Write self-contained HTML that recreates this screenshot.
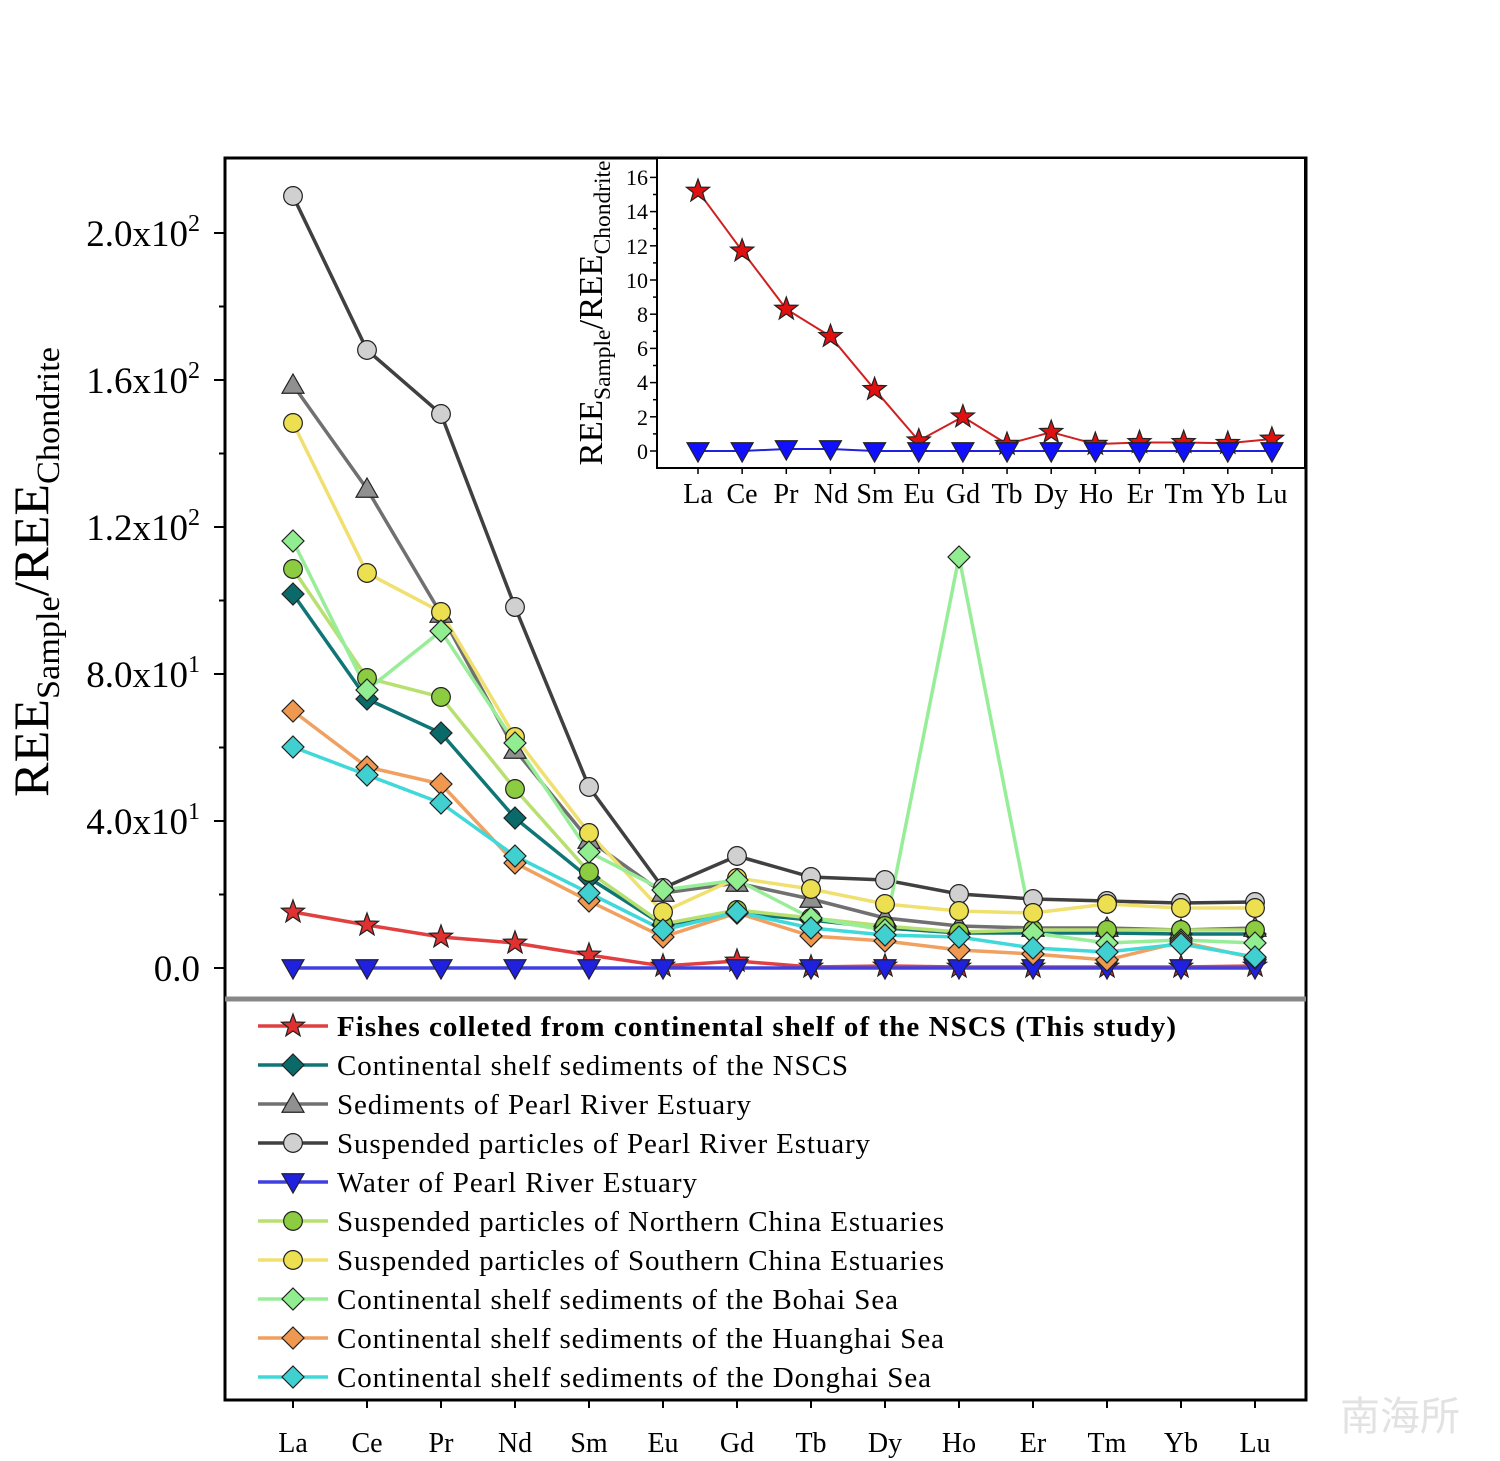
<!DOCTYPE html>
<html><head><meta charset="utf-8"><style>
body{margin:0;background:#fff}
svg{display:block;font-family:"Liberation Serif",serif}
</style></head><body>
<svg id="s" width="1500" height="1461" viewBox="0 0 1500 1461" xmlns="http://www.w3.org/2000/svg">
<rect width="1500" height="1461" fill="#fff"/>
<rect x="225" y="158" width="1081" height="1242" fill="none" stroke="#000" stroke-width="3"/>
<line x1="225" y1="999" x2="1306" y2="999" stroke="#888" stroke-width="5"/>
<g id="ticks" stroke="#000" stroke-width="2"></g>
<g font-size="37" text-anchor="end">
<text x="200" y="246">2.0x10<tspan font-size="24" dy="-15">2</tspan></text>
<text x="200" y="393">1.6x10<tspan font-size="24" dy="-15">2</tspan></text>
<text x="200" y="540">1.2x10<tspan font-size="24" dy="-15">2</tspan></text>
<text x="200" y="687">8.0x10<tspan font-size="24" dy="-15">1</tspan></text>
<text x="200" y="834">4.0x10<tspan font-size="24" dy="-15">1</tspan></text>
<text x="200" y="981">0.0</text>
</g>
<text transform="translate(48,572) rotate(-90)" font-size="50" text-anchor="middle" textLength="450" lengthAdjust="spacingAndGlyphs">REE<tspan font-size="33" dy="11">Sample</tspan><tspan dy="-11">/REE</tspan><tspan font-size="33" dy="11">Chondrite</tspan></text>
<g font-size="28" text-anchor="middle">
<text x="293" y="1452">La</text><text x="367" y="1452">Ce</text><text x="441" y="1452">Pr</text><text x="515" y="1452">Nd</text><text x="589" y="1452">Sm</text><text x="663" y="1452">Eu</text><text x="737" y="1452">Gd</text><text x="811" y="1452">Tb</text><text x="885" y="1452">Dy</text><text x="959" y="1452">Ho</text><text x="1033" y="1452">Er</text><text x="1107" y="1452">Tm</text><text x="1181" y="1452">Yb</text><text x="1255" y="1452">Lu</text>
</g>
<g id="main"></g>
<g font-size="29" lengthAdjust="spacingAndGlyphs">
<text x="337" y="1036" font-weight="bold" textLength="839">Fishes colleted from continental shelf of the  NSCS (This study)</text>
<text x="337" y="1075" textLength="511">Continental shelf sediments of the NSCS</text>
<text x="337" y="1114" textLength="414">Sediments of Pearl River Estuary</text>
<text x="337" y="1153" textLength="533">Suspended particles of Pearl River Estuary</text>
<text x="337" y="1192" textLength="360">Water of Pearl River Estuary</text>
<text x="337" y="1231" textLength="607">Suspended particles of Northern China Estuaries</text>
<text x="337" y="1270" textLength="607">Suspended particles of Southern China Estuaries</text>
<text x="337" y="1309" textLength="561">Continental shelf sediments of the Bohai Sea</text>
<text x="337" y="1348" textLength="607">Continental shelf sediments of the Huanghai Sea</text>
<text x="337" y="1387" textLength="594">Continental shelf sediments of the Donghai Sea</text>
</g>
<g id="leg"></g>
<rect x="657" y="158" width="648" height="310" fill="#fff" stroke="#000" stroke-width="2"/>
<g id="iticks" stroke="#000" stroke-width="1.5"></g>
<g font-size="22" text-anchor="end">
<text x="648" y="459">0</text><text x="648" y="425">2</text><text x="648" y="390">4</text><text x="648" y="356">6</text><text x="648" y="322">8</text><text x="648" y="288">10</text><text x="648" y="254">12</text><text x="648" y="219">14</text><text x="648" y="185">16</text>
</g>
<text transform="translate(602,313) rotate(-90)" font-size="34" text-anchor="middle" textLength="305" lengthAdjust="spacingAndGlyphs">REE<tspan font-size="23" dy="8">Sample</tspan><tspan dy="-8">/REE</tspan><tspan font-size="23" dy="8">Chondrite</tspan></text>
<g font-size="28" text-anchor="middle">
<text x="698" y="503">La</text><text x="742" y="503">Ce</text><text x="786" y="503">Pr</text><text x="831" y="503">Nd</text><text x="875" y="503">Sm</text><text x="919" y="503">Eu</text><text x="963" y="503">Gd</text><text x="1007" y="503">Tb</text><text x="1051" y="503">Dy</text><text x="1096" y="503">Ho</text><text x="1140" y="503">Er</text><text x="1184" y="503">Tm</text><text x="1228" y="503">Yb</text><text x="1272" y="503">Lu</text>
</g>
<g id="inset"></g>
<text x="1340" y="1430" font-size="40" fill="#e2e2e2" font-family="'Noto Sans CJK SC',sans-serif">南海所</text>
</svg>
<script>
const NS="http://www.w3.org/2000/svg";
function el(p,t,a){const e=document.createElementNS(NS,t);for(const k in a)e.setAttribute(k,a[k]);p.appendChild(e);return e;}
const T=document.getElementById('ticks');
for(let i=0;i<=10;i++){const y=968-i*73.5;el(T,'line',{x1:i%2?219:214,y1:y,x2:225,y2:y});}
for(let i=0;i<14;i++){const x=293+74*i;el(T,'line',{x1:x,y1:1400,x2:x,y2:1408});}
function marker(g,type,x,y,fill,s){
 s=s||11;const st={fill:fill,stroke:'#222','stroke-width':1.2};
 if(type==='star'){let p=[];for(let k=0;k<10;k++){const r=k%2?s*0.45:s*1.1;const a=-Math.PI/2+k*Math.PI/5;p.push((x+r*Math.cos(a)).toFixed(1)+','+(y+r*Math.sin(a)).toFixed(1));}el(g,'polygon',Object.assign({points:p.join(' ')},st));}
 else if(type==='dia')el(g,'polygon',Object.assign({points:`${x},${y-s} ${x+s},${y} ${x},${y+s} ${x-s},${y}`},st));
 else if(type==='tri')el(g,'polygon',Object.assign({points:`${x},${y-s} ${x+s},${y+s*0.75} ${x-s},${y+s*0.75}`},st));
 else if(type==='tdn')el(g,'polygon',Object.assign({points:`${x-s},${y-s*0.75} ${x+s},${y-s*0.75} ${x},${y+s}`},st));
 else el(g,'circle',Object.assign({cx:x,cy:y,r:s*0.85},st));
}
const S=[
['#e04040','#e03030','star',[912,925,937,943,955,966,961,967,966,967,967,967,967,966]],
['#107575','#0a6a6a','dia',[594,699,733,818,878,925,913,920,928,933,933,933,934,934]],
['#707070','#909090','tri',[385,489,614,750,840,893,883,899,918,926,928,928,930,928]],
['#404040','#d0d0d0','circ',[196,350,414,607,787,888,856,877,880,894,899,901,903,902]],
['#4040e0','#2020e0','tdn',[968,968,968,968,968,968,968,968,968,968,968,968,968,968]],
['#b8e070','#8ccc40','circ',[569,678,697,789,872,924,910,918,926,932,930,930,930,930]],
['#f0e070','#ece050','circ',[423,573,612,737,833,912,878,889,904,911,913,904,908,908]],
['#98ee98','#90ee90','dia',[541,690,631,743,852,890,880,918,930,557,933,943,940,943]],
['#f0a060','#f09850','dia',[711,767,784,863,901,937,913,936,941,950,954,960,942,958]],
['#40d8d8','#40d0d0','dia',[747,775,803,856,893,930,912,928,935,937,948,952,944,957]]];
const M=document.getElementById('main'),L=document.getElementById('leg');
S.forEach((s,i)=>{
 const pts=s[3].map((y,j)=>(293+74*j)+','+y).join(' ');
 el(M,'polyline',{points:pts,fill:'none',stroke:s[0],'stroke-width':3.5});
});
S.forEach((s,i)=>{s[3].forEach((y,j)=>marker(M,s[2],293+74*j,y,s[1]));
 const ly=1026+39*i;el(L,'line',{x1:258,y1:ly,x2:328,y2:ly,stroke:s[0],'stroke-width':3.5});marker(L,s[2],293,ly,s[1]);});
const IT=document.getElementById('iticks');
for(let v=0;v<=16;v++){const y=451-v*17.1;el(IT,'line',{x1:v%2?653:650,y1:y,x2:657,y2:y});}
for(let j=0;j<14;j++){const x=698+44.15*j;el(IT,'line',{x1:x,y1:468,x2:x,y2:474});}
const I=document.getElementById('inset');
const fv=[15.2,11.7,8.3,6.7,3.6,0.6,2.0,0.4,1.1,0.4,0.5,0.5,0.45,0.7];
el(I,'polyline',{points:fv.map((v,j)=>(698+44.15*j)+','+(451-v*17.1)).join(' '),fill:'none',stroke:'#d02020','stroke-width':2});
el(I,'polyline',{points:fv.map((v,j)=>(698+44.15*j)+','+(j==2||j==3?449:451)).join(' '),fill:'none',stroke:'#2020e0','stroke-width':2});
fv.forEach((v,j)=>marker(I,'star',698+44.15*j,451-v*17.1,'#e01010',11));
fv.forEach((v,j)=>marker(I,'tdn',698+44.15*j,j==2||j==3?449:451,'#1010ff',11));
</script>
</body></html>
